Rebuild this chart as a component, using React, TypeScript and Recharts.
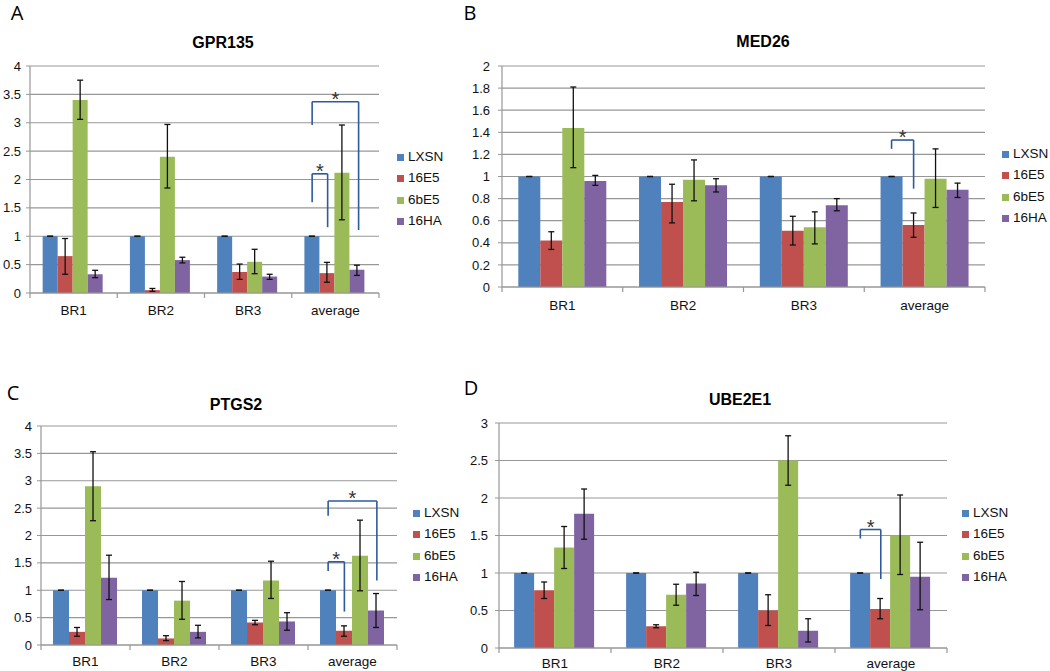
import { Bar, BarChart, CartesianGrid, ErrorBar, Legend, ReferenceDot, ReferenceLine, XAxis, YAxis } from 'recharts'

const categories = ['BR1', 'BR2', 'BR3', 'average']
const seriesNames = ['LXSN', '16E5', '6bE5', '16HA']
const seriesColors = ['#4f81bd', '#c0504d', '#9bbb59', '#8064a2']

// A - GPR135
const gprLXSN = [1, 1, 1, 1]
const gpr16E5 = [0.65, 0.05, 0.37, 0.35]
const gpr6bE5 = [3.4, 2.4, 0.55, 2.12]
const gpr16HA = [0.33, 0.58, 0.29, 0.41]
const gpr16E5Range = [[0.33, 0.96], [0.03, 0.08], [0.24, 0.51], [0.19, 0.54]]
const gpr6bE5Range = [[3.06, 3.75], [1.85, 2.97], [0.34, 0.77], [1.29, 2.96]]
const gpr16HARange = [[0.27, 0.4], [0.53, 0.63], [0.24, 0.33], [0.31, 0.49]]
const gprBrackets = [
  { from: 0, to: 1, feet: [1.6, 1.16], top: 2.1 },
  { from: 0, to: 3, feet: [2.96, 1.11], top: 3.37 },
]

// B - MED26
const medLXSN = [1, 1, 1, 1]
const med16E5 = [0.42, 0.77, 0.51, 0.56]
const med6bE5 = [1.44, 0.97, 0.54, 0.98]
const med16HA = [0.96, 0.92, 0.74, 0.88]
const med16E5Range = [[0.34, 0.5], [0.58, 0.93], [0.38, 0.64], [0.45, 0.67]]
const med6bE5Range = [[1.08, 1.81], [0.78, 1.15], [0.39, 0.68], [0.72, 1.25]]
const med16HARange = [[0.92, 1.01], [0.86, 0.98], [0.69, 0.8], [0.81, 0.94]]
const medBrackets = [{ from: 0, to: 1, feet: [1.25, 0.89], top: 1.33 }]

// C - PTGS2
const ptgLXSN = [1, 1, 1, 1]
const ptg16E5 = [0.24, 0.12, 0.41, 0.26]
const ptg6bE5 = [2.9, 0.81, 1.18, 1.63]
const ptg16HA = [1.23, 0.24, 0.43, 0.63]
const ptg16E5Range = [[0.16, 0.32], [0.08, 0.17], [0.37, 0.45], [0.16, 0.35]]
const ptg6bE5Range = [[2.27, 3.53], [0.47, 1.16], [0.85, 1.53], [0.99, 2.28]]
const ptg16HARange = [[0.83, 1.64], [0.13, 0.36], [0.27, 0.59], [0.32, 0.94]]
const ptgBrackets = [
  { from: 0, to: 1, feet: [1.35, 0.61], top: 1.52 },
  { from: 0, to: 3, feet: [2.36, 1.18], top: 2.63 },
]

// D - UBE2E1
const ubeLXSN = [1, 1, 1, 1]
const ube16E5 = [0.77, 0.29, 0.5, 0.52]
const ube6bE5 = [1.34, 0.71, 2.5, 1.5]
const ube16HA = [1.79, 0.86, 0.23, 0.95]
const ube16E5Range = [[0.66, 0.88], [0.27, 0.31], [0.3, 0.71], [0.39, 0.66]]
const ube6bE5Range = [[1.06, 1.62], [0.57, 0.85], [2.17, 2.83], [0.98, 2.04]]
const ube16HARange = [[1.45, 2.12], [0.7, 1.01], [0.08, 0.39], [0.51, 1.41]]
const ubeBrackets = [{ from: 0, to: 1, feet: [1.46, 0.92], top: 1.58 }]

const ticks4 = [0, 0.5, 1, 1.5, 2, 2.5, 3, 3.5, 4]
const ticks2 = [0, 0.2, 0.4, 0.6, 0.8, 1, 1.2, 1.4, 1.6, 1.8, 2]
const ticks3 = [0, 0.5, 1, 1.5, 2, 2.5, 3]
const xTicks = [0, 0.5, 1, 1.5, 2, 2.5, 3, 3.5, 4]

const FONT = '"Liberation Sans", Arial, sans-serif'
const GRID = '#979797'
const BRACKET = '#2d5a9c'

type Bracket = { from: number; to: number; feet: number[]; top: number }

type PanelProps = {
  letter: string
  title: string
  values: number[][]
  ranges: (number[][] | null)[]
  yTicks: number[]
  brackets: Bracket[]
  box: { left: number; top: number; width: number; height: number }
  plot: { left: number; top: number; right: number; bottom: number }
  gap: number
  labelDy: number
  tickGap: number
  legendTop: number
  legendLeft: number
  titlePos: [number, number]
  letterPos: [number, number]
}

function Panel(p: PanelProps) {
  const rows = categories.map((cat, i) => {
    // pos: centre of the category on the 0..4 position axis
    const row: Record<string, any> = { cat, pos: i + 0.5 }
    seriesNames.forEach((s, k) => {
      const v = p.values[k][i]
      row[s] = v
      const r = p.ranges[k]
      row['err' + k] = r ? [v - r[i][0], r[i][1] - v] : [0, 0]
    })
    return row
  })
  const barX = (k: number) => 3 + p.gap + ((1 - 2 * p.gap) * (k + 0.5)) / 4
  const yMax = p.yTicks[p.yTicks.length - 1]

  return (
    <>
      <div
        style={{
          position: 'absolute',
          left: p.letterPos[0],
          top: p.letterPos[1],
          transform: 'translate(-50%, -50%)',
          fontFamily: '"Open Sans", sans-serif',
          fontSize: 20,
        }}
      >
        {p.letter}
      </div>
      <div
        style={{
          position: 'absolute',
          left: p.titlePos[0],
          top: p.titlePos[1],
          transform: 'translate(-50%, -50%)',
          fontFamily: FONT,
          fontWeight: 'bold',
          fontSize: 16,
          whiteSpace: 'nowrap',
        }}
      >
        {p.title}
      </div>
      <div style={{ position: 'absolute', left: p.box.left, top: p.box.top }}>
        <BarChart
          width={p.box.width}
          height={p.box.height}
          data={rows}
          barGap={0}
          barCategoryGap={`${p.gap * 100}%`}
          margin={{
            top: p.plot.top - p.box.top,
            right: p.box.left + p.box.width - p.plot.right,
            bottom: 0,
            left: 0,
          }}
        >
          <CartesianGrid vertical={false} stroke={GRID} strokeWidth={1.2} />
          <XAxis dataKey="cat" hide height={0} />
          <XAxis
            xAxisId="n"
            dataKey="pos"
            type="number"
            domain={[0, 4]}
            allowDataOverflow
            ticks={xTicks}
            interval={0}
            tickSize={0}
            tickMargin={0}
            tickLine={false}
            axisLine={{ stroke: GRID, strokeWidth: 1.2 }}
            height={p.box.top + p.box.height - p.plot.bottom}
            tick={(t: any) => {
              const v = Number(t.payload.value)
              if (Number.isInteger(v)) {
                return <line x1={t.x} x2={t.x} y1={t.y} y2={t.y + 5} stroke={GRID} strokeWidth={1.2} />
              }
              return (
                <text
                  x={t.x}
                  y={t.y + p.labelDy}
                  textAnchor="middle"
                  dominantBaseline="central"
                  fontSize={13.5}
                  fill="#111"
                >
                  {categories[Math.floor(v)]}
                </text>
              )
            }}
          />
          <YAxis
            width={p.plot.left - p.box.left}
            domain={[0, yMax]}
            ticks={p.yTicks}
            interval={0}
            tickSize={4}
            tickMargin={p.tickGap}
            axisLine={{ stroke: GRID, strokeWidth: 1.2 }}
            tickLine={{ stroke: GRID }}
            tick={{ fontSize: 13, fill: '#111' }}
          />
          <Legend
            layout="vertical"
            align="center"
            verticalAlign="middle"
            iconType="square"
            iconSize={7}
            itemSorter={(item: any) => seriesNames.indexOf(item.value)}
            formatter={(value) => <span style={{ color: '#111' }}>{value}</span>}
            wrapperStyle={{
              left: p.legendLeft,
              top: p.legendTop,
              width: 'auto',
              fontSize: 13.5,
              lineHeight: '21.3px',
              fontFamily: FONT,
            }}
          />
          {seriesNames.map((s, k) => (
            <Bar key={s} dataKey={s} name={s} fill={seriesColors[k]} isAnimationActive={false}>
              <ErrorBar
                dataKey={'err' + k}
                direction="y"
                width={3}
                stroke="#111"
                strokeWidth={1.3}
                isAnimationActive={false}
              />
            </Bar>
          ))}
          {p.brackets.map((b, i) => {
            const x1 = barX(b.from)
            const x2 = barX(b.to)
            return [
              <ReferenceLine
                key={`l${i}`}
                xAxisId="n"
                segment={[{ x: x1, y: b.feet[0] }, { x: x1, y: b.top }]}
                stroke={BRACKET}
                strokeWidth={1.6}
              />,
              <ReferenceLine
                key={`t${i}`}
                xAxisId="n"
                segment={[{ x: x1, y: b.top }, { x: x2, y: b.top }]}
                stroke={BRACKET}
                strokeWidth={1.6}
              />,
              <ReferenceLine
                key={`r${i}`}
                xAxisId="n"
                segment={[{ x: x2, y: b.top }, { x: x2, y: b.feet[1] }]}
                stroke={BRACKET}
                strokeWidth={1.6}
              />,
              <ReferenceDot
                key={`s${i}`}
                xAxisId="n"
                x={(x1 + x2) / 2}
                y={b.top}
                r={0}
                fill="none"
                stroke="none"
                label={{ value: '*', position: 'top', offset: -4, fontSize: 20, fill: '#333' }}
              />,
            ]
          })}
        </BarChart>
      </div>
    </>
  )
}

export default function App() {
  return (
    <div
      style={{
        position: 'absolute',
        left: 0,
        top: 0,
        width: 1050,
        height: 671,
        background: '#fff',
        fontFamily: FONT,
        overflow: 'hidden',
      }}
    >
      <Panel
        letter="A"
        title="GPR135"
        values={[gprLXSN, gpr16E5, gpr6bE5, gpr16HA]}
        ranges={[null, gpr16E5Range, gpr6bE5Range, gpr16HARange]}
        yTicks={ticks4}
        brackets={gprBrackets}
        box={{ left: 0, top: 0, width: 470, height: 330 }}
        plot={{ left: 30, top: 66, right: 379, bottom: 293 }}
        gap={0.145}
        labelDy={17}
        tickGap={5}
        legendLeft={397}
        legendTop={146}
        titlePos={[223, 43]}
        letterPos={[17, 12]}
      />
      <Panel
        letter="B"
        title="MED26"
        values={[medLXSN, med16E5, med6bE5, med16HA]}
        ranges={[null, med16E5Range, med6bE5Range, med16HARange]}
        yTicks={ticks2}
        brackets={medBrackets}
        box={{ left: 470, top: 0, width: 580, height: 330 }}
        plot={{ left: 502, top: 66, right: 985, bottom: 287 }}
        gap={0.135}
        labelDy={18}
        tickGap={8}
        legendLeft={532}
        legendTop={143}
        titlePos={[763, 42]}
        letterPos={[470, 12]}
      />
      <Panel
        letter="C"
        title="PTGS2"
        values={[ptgLXSN, ptg16E5, ptg6bE5, ptg16HA]}
        ranges={[null, ptg16E5Range, ptg6bE5Range, ptg16HARange]}
        yTicks={ticks4}
        brackets={ptgBrackets}
        box={{ left: 0, top: 330, width: 470, height: 341 }}
        plot={{ left: 41, top: 426, right: 397, bottom: 645 }}
        gap={0.135}
        labelDy={16}
        tickGap={5}
        legendLeft={413}
        legendTop={172}
        titlePos={[236, 405]}
        letterPos={[13, 392]}
      />
      <Panel
        letter="D"
        title="UBE2E1"
        values={[ubeLXSN, ube16E5, ube6bE5, ube16HA]}
        ranges={[null, ube16E5Range, ube6bE5Range, ube16HARange]}
        yTicks={ticks3}
        brackets={ubeBrackets}
        box={{ left: 470, top: 330, width: 580, height: 341 }}
        plot={{ left: 499, top: 423, right: 947, bottom: 648 }}
        gap={0.135}
        labelDy={15}
        tickGap={7}
        legendLeft={492}
        legendTop={172}
        titlePos={[740, 400]}
        letterPos={[471, 387]}
      />
    </div>
  )
}
